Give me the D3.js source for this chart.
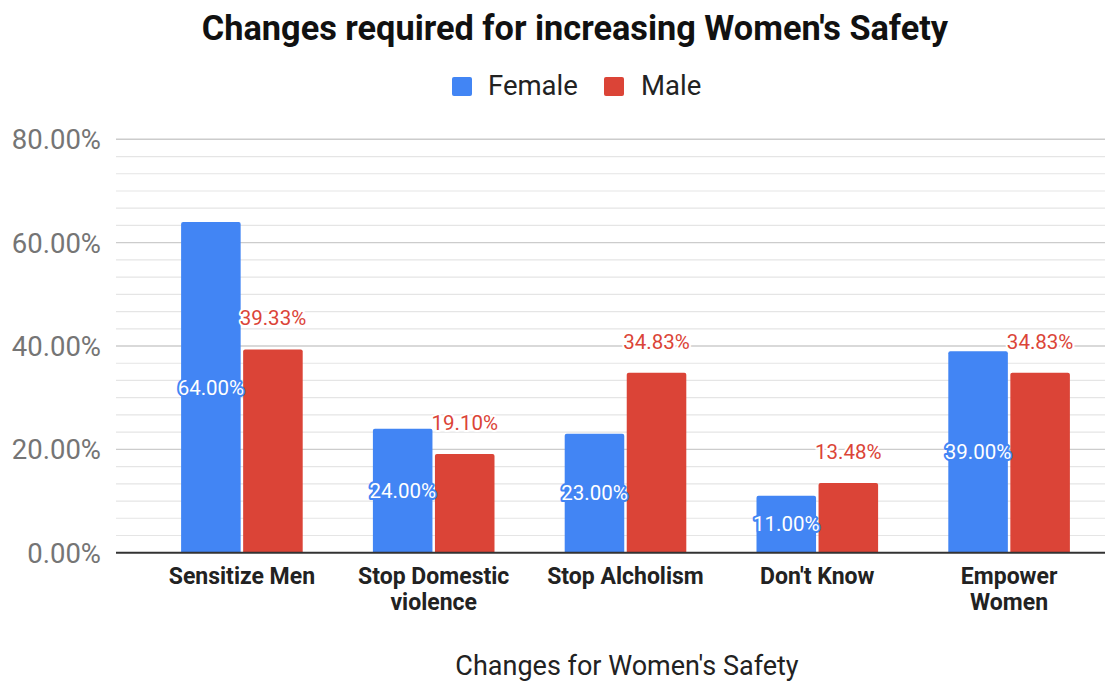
<!DOCTYPE html>
<html>
<head>
<meta charset="utf-8">
<script src="https://cdn.jsdelivr.net/npm/d3@7"></script>
<style>
  html, body { margin: 0; padding: 0; background: #fff; }
  svg { display: block; font-family: Roboto, "Noto Sans", sans-serif; }
</style>
</head>
<body>
<svg id="chart" width="1105" height="684"></svg>
<script>
const categories = [["Sensitize Men"], ["Stop Domestic", "violence"], ["Stop Alcholism"], ["Don't Know"], ["Empower", "Women"]];
const categoryKeys = ["Sensitize Men", "Stop Domestic violence", "Stop Alcholism", "Don't Know", "Empower Women"];
const seriesNames = ["Female", "Male"];
const femaleValues = [0.64, 0.24, 0.23, 0.11, 0.39];
const maleValues = [0.3933, 0.1910, 0.3483, 0.1348, 0.3483];
const yTickValues = [0, 0.2, 0.4, 0.6, 0.8];
const minorPerMajor = 6;

const colors = { Female: "#4285F4", Male: "#DB4437" };

const svg = d3.select("#chart");
const plotLeft = 116, plotRight = 1105;
const y = d3.scaleLinear().domain([0, 0.8]).range([552.7, 139.3]);
const x = d3.scaleBand().domain(categoryKeys).range([146, 1105]).paddingInner(0.366).paddingOuter(0.183);
const x1 = d3.scaleBand().domain(seriesNames).range([0, x.bandwidth()]).paddingInner(0.04);

// minor gridlines
const minorTicks = [];
for (let i = 0; i < yTickValues.length - 1; i++) {
  const a = yTickValues[i], b = yTickValues[i + 1];
  for (let j = 1; j < minorPerMajor; j++) minorTicks.push(a + (b - a) * j / minorPerMajor);
}
svg.append("g").selectAll("line").data(minorTicks).join("line")
  .attr("x1", plotLeft).attr("x2", plotRight)
  .attr("y1", d => y(d)).attr("y2", d => y(d))
  .attr("stroke", "#e5e5e5").attr("stroke-width", 1.2);

// major gridlines
svg.append("g").selectAll("line").data(yTickValues.slice(1)).join("line")
  .attr("x1", plotLeft).attr("x2", plotRight)
  .attr("y1", d => y(d)).attr("y2", d => y(d))
  .attr("stroke", "#cccccc").attr("stroke-width", 1.4);

// y axis labels
const yAxis = d3.axisLeft(y).tickValues(yTickValues).tickFormat(d3.format(".2%")).tickSize(0).tickPadding(0);
const yg = svg.append("g").attr("transform", `translate(101,0)`).call(yAxis);
yg.select(".domain").remove();
yg.selectAll("text").attr("font-size", 27.5).attr("fill", "#757575").attr("font-family", "Roboto").attr("dy", "0.35em");

// bars
const rows = categoryKeys.map((c, i) => ({ cat: c, Female: femaleValues[i], Male: maleValues[i] }));
const groups = svg.append("g").selectAll("g").data(rows).join("g")
  .attr("transform", d => `translate(${x(d.cat)},0)`);

function barPath(x0, w, yTop, yBot, r) {
  return `M${x0},${yBot} L${x0},${yTop + r} Q${x0},${yTop} ${x0 + r},${yTop} L${x0 + w - r},${yTop} Q${x0 + w},${yTop} ${x0 + w},${yTop + r} L${x0 + w},${yBot} Z`;
}

groups.selectAll("path").data(d => seriesNames.map(s => ({ s, v: d[s] }))).join("path")
  .attr("d", d => barPath(x1(d.s), x1.bandwidth(), y(d.v), y(0), 2))
  .attr("fill", d => colors[d.s]);

// baseline
svg.append("line").attr("x1", plotLeft).attr("x2", plotRight)
  .attr("y1", y(0)).attr("y2", y(0)).attr("stroke", "#333").attr("stroke-width", 2);

// data labels
const fmt = d3.format(".2%");
groups.append("text")
  .attr("x", x1("Female") + x1.bandwidth() / 2)
  .attr("y", d => (y(d.Female) + y(0)) / 2)
  .attr("dy", "0.35em")
  .attr("text-anchor", "middle")
  .attr("font-size", 20.5)
  .attr("fill", "#fff")
  .attr("stroke", "#4285F4").attr("stroke-width", 4).attr("stroke-linejoin", "round")
  .attr("paint-order", "stroke")
  .text(d => fmt(d.Female));

groups.append("text")
  .attr("x", x1("Male") + x1.bandwidth() / 2)
  .attr("y", d => y(d.Male) - 24)
  .attr("text-anchor", "middle")
  .attr("font-size", 20.5)
  .attr("fill", "#DB4437")
  .attr("stroke", "#fff").attr("stroke-width", 4).attr("stroke-linejoin", "round")
  .attr("paint-order", "stroke")
  .text(d => fmt(d.Male));

// x labels (one text element per line)
const xLines = [];
categoryKeys.forEach((k, i) => categories[i].forEach((line, j) => xLines.push({ k, line, j })));
svg.append("g").selectAll("text").data(xLines).join("text")
  .attr("x", d => x(d.k) + x.bandwidth() / 2)
  .attr("y", d => 584 + d.j * 25.5)
  .attr("text-anchor", "middle")
  .attr("font-size", 23).attr("font-weight", "bold").attr("fill", "#222")
  .text(d => d.line);

// title
svg.append("text").attr("x", 575).attr("y", 40).attr("text-anchor", "middle")
  .attr("font-size", 34.3).attr("font-weight", "bold").attr("fill", "#111")
  .text("Changes required for increasing Women's Safety");

// legend
const legend = [{ name: "Female", sx: 452, tx: 488 }, { name: "Male", sx: 604, tx: 641 }];
const lg = svg.append("g").selectAll("g").data(legend).join("g");
lg.append("rect").attr("x", d => d.sx).attr("y", 77).attr("width", 20).attr("height", 19).attr("rx", 2)
  .attr("fill", d => colors[d.name]);
lg.append("text").attr("x", d => d.tx).attr("y", 95).attr("font-size", 27.5).attr("fill", "#222")
  .text(d => d.name);

// x axis title
svg.append("text").attr("x", 627).attr("y", 675).attr("text-anchor", "middle")
  .attr("font-size", 27).attr("fill", "#222")
  .text("Changes for Women's Safety");
</script>
</body>
</html>
